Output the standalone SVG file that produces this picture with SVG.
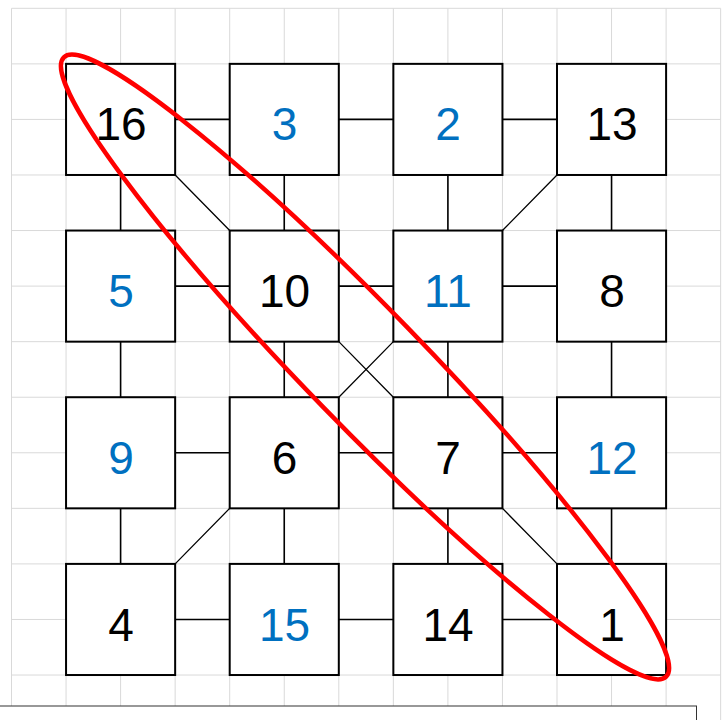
<svg xmlns="http://www.w3.org/2000/svg" width="726" height="720" viewBox="0 0 726 720">
<style>
.grid{stroke:#d9d9d9;stroke-width:1;fill:none}
.box{fill:#fff;stroke:#000;stroke-width:2}
.con{stroke:#000;stroke-width:1.6;fill:none}
.dia{stroke:#000;stroke-width:1.3;fill:none}
.t{font-family:"Liberation Sans",Arial,sans-serif;font-size:46px;text-anchor:middle}
.k{fill:#000}
.b{fill:#0070c0}
</style>
<rect x="0" y="0" width="726" height="720" fill="#fff"/>
<path class="grid" d="M11.5 8.3V720M66.05 8.3V720M120.6 8.3V720M175.15 8.3V720M229.7 8.3V720M284.25 8.3V720M338.8 8.3V720M393.35 8.3V720M447.9 8.3V720M502.45 8.3V720M557 8.3V720M611.55 8.3V720M666.1 8.3V720M720.65 8.3V720M11.5 8.3H720.65M11.5 63.86H720.65M11.5 119.42H720.65M11.5 174.98H720.65M11.5 230.54H720.65M11.5 286.1H720.65M11.5 341.66H720.65M11.5 397.22H720.65M11.5 452.78H720.65M11.5 508.34H720.65M11.5 563.9H720.65M11.5 619.46H720.65M11.5 675.02H720.65"/>
<g id="connectors">
<path class="con" d="M175.15 119.42H229.7M338.8 119.42H393.35M502.45 119.42H557M175.15 286.1H229.7M338.8 286.1H393.35M502.45 286.1H557M175.15 452.78H229.7M338.8 452.78H393.35M502.45 452.78H557M175.15 619.46H229.7M338.8 619.46H393.35M502.45 619.46H557"/>
<path class="con" d="M120.6 174.98V230.54M120.6 341.66V397.22M120.6 508.34V563.9M284.25 174.98V230.54M284.25 341.66V397.22M284.25 508.34V563.9M447.9 174.98V230.54M447.9 341.66V397.22M447.9 508.34V563.9M611.55 174.98V230.54M611.55 341.66V397.22M611.55 508.34V563.9"/>
<path class="dia" d="M175.15 174.98L229.7 230.54M557 174.98L502.45 230.54M338.8 341.66L393.35 397.22M393.35 341.66L338.8 397.22M229.7 508.34L175.15 563.9M502.45 508.34L557 563.9"/>
</g>
<g id="n16"><rect class="box" x="66.05" y="63.86" width="109.1" height="111.12"/><text class="t k" x="121" y="140">16</text></g>
<g id="n3"><rect class="box" x="229.7" y="63.86" width="109.1" height="111.12"/><text class="t b" x="284.5" y="140">3</text></g>
<g id="n2"><rect class="box" x="393.35" y="63.86" width="109.1" height="111.12"/><text class="t b" x="448" y="140">2</text></g>
<g id="n13"><rect class="box" x="557" y="63.86" width="109.1" height="111.12"/><text class="t k" x="612" y="140">13</text></g>
<g id="n5"><rect class="box" x="66.05" y="230.54" width="109.1" height="111.12"/><text class="t b" x="121" y="306.5">5</text></g>
<g id="n10"><rect class="box" x="229.7" y="230.54" width="109.1" height="111.12"/><text class="t k" x="284.5" y="306.5">10</text></g>
<g id="n11"><rect class="box" x="393.35" y="230.54" width="109.1" height="111.12"/><text class="t b" x="448" y="306.5">11</text></g>
<g id="n8"><rect class="box" x="557" y="230.54" width="109.1" height="111.12"/><text class="t k" x="612" y="306.5">8</text></g>
<g id="n9"><rect class="box" x="66.05" y="397.22" width="109.1" height="111.12"/><text class="t b" x="121" y="473.5">9</text></g>
<g id="n6"><rect class="box" x="229.7" y="397.22" width="109.1" height="111.12"/><text class="t k" x="284.5" y="473.5">6</text></g>
<g id="n7"><rect class="box" x="393.35" y="397.22" width="109.1" height="111.12"/><text class="t k" x="448" y="473.5">7</text></g>
<g id="n12"><rect class="box" x="557" y="397.22" width="109.1" height="111.12"/><text class="t b" x="612" y="473.5">12</text></g>
<g id="n4"><rect class="box" x="66.05" y="563.9" width="109.1" height="111.12"/><text class="t k" x="121" y="641">4</text></g>
<g id="n15"><rect class="box" x="229.7" y="563.9" width="109.1" height="111.12"/><text class="t b" x="284.5" y="641">15</text></g>
<g id="n14"><rect class="box" x="393.35" y="563.9" width="109.1" height="111.12"/><text class="t k" x="448" y="641">14</text></g>
<g id="n1"><rect class="box" x="557" y="563.9" width="109.1" height="111.12"/><text class="t k" x="612" y="641">1</text></g>
<ellipse cx="365" cy="367" rx="432" ry="58" transform="rotate(45.8 365 367)" fill="none" stroke="#ff0000" stroke-width="4.5"/>
<rect x="-2" y="706" width="698.5" height="30" fill="#fff" stroke="#333" stroke-width="1"/>
</svg>
